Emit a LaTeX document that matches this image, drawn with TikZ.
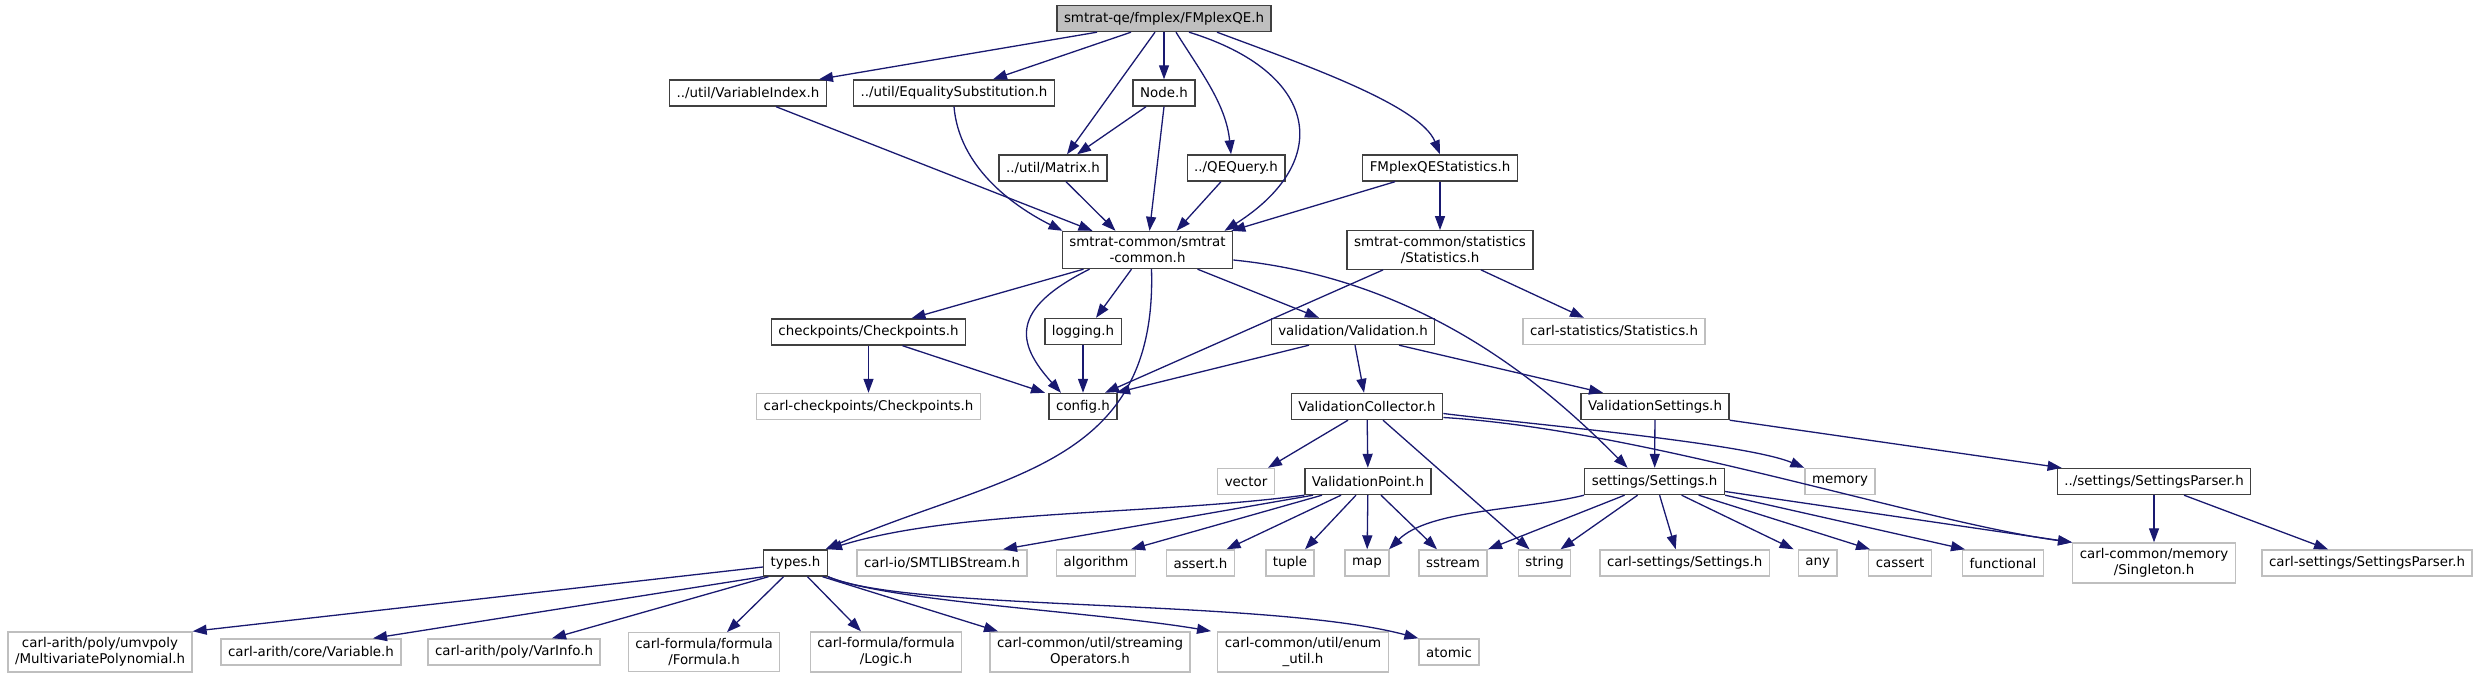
\documentclass[tikz,border=0pt]{standalone}
\usepackage{fontspec}
\setmainfont{DejaVu Sans}
\usetikzlibrary{arrows.meta}
\definecolor{edgeblue}{HTML}{191970}
\definecolor{docgray}{HTML}{404040}
\definecolor{extgray}{HTML}{BFBFBF}

\begin{document}
\begin{tikzpicture}[
    x=1pt, y=1pt,
    >={Triangle[length=14pt,width=10pt]},
    % one box per header file
    file/.style={
        draw=docgray,
        line width=1.4pt,
        fill=white,
        text=black,
        inner xsep=7pt,
        inner ysep=5.5pt,
        minimum height=26pt,
        align=center,
        font=\fontsize{13.4}{16}\selectfont
    },
    extfile/.style={file, draw=extgray},
    rootfile/.style={file, fill=extgray},
    dep/.style={->, draw=edgeblue, line width=1.3pt}
]
    \useasboundingbox (0,0) rectangle (2478,-679);

    % --- row 1 ---
    \node(root)[rootfile] at (1164,-18.5) {smtrat-qe/fmplex/FMplexQE.h};
    % --- row 2 ---
    \node(varidx)[file] at (748,-93) {../util/VariableIndex.h};
    \node(eqsub)[file] at (954,-93) {../util/EqualitySubstitution.h};
    \node(nodeh)[file] at (1164,-93) {Node.h};
    % --- row 3 ---
    \node(matrix)[file] at (1053,-168) {../util/Matrix.h};
    \node(qequery)[file] at (1236,-168) {../QEQuery.h};
    \node(fmstats)[file] at (1440,-168) {FMplexQEStatistics.h};
    % --- row 4 ---
    \node(common)[file] at (1147.5,-250) {smtrat-common/smtrat\\-common.h};
    \node(stats)[file] at (1440,-250) {smtrat-common/statistics\\/Statistics.h};
    % --- row 5 ---
    \node(checkp)[file] at (868.5,-332) {checkpoints/Checkpoints.h};
    \node(logging)[file] at (1083,-331.5) {logging.h};
    \node(valid)[file] at (1353,-331.5) {validation/Validation.h};
    \node(carlstats)[extfile] at (1614,-331.5) {carl-statistics/Statistics.h};
    % --- row 6 ---
    \node(carlcheckp)[extfile] at (868.5,-406.5) {carl-checkpoints/Checkpoints.h};
    \node(config)[file] at (1083,-406.5) {config.h};
    \node(vcoll)[file] at (1367,-406.5) {ValidationCollector.h};
    \node(vsett)[file] at (1655,-406.5) {ValidationSettings.h};
    % --- row 7 ---
    \node(vector)[extfile] at (1246,-481.5) {vector};
    \node(vpoint)[file] at (1368,-481.5) {ValidationPoint.h};
    \node(settings)[file] at (1654.6,-481.5) {settings/Settings.h};
    \node(memory)[extfile] at (1840,-481.5) {memory};
    \node(sparser)[file] at (2154,-481.5) {../settings/SettingsParser.h};
    % --- row 8 ---
    \node(types)[file] at (795.5,-563) {types.h};
    \node(smtlib)[extfile] at (942,-563) {carl-io/SMTLIBStream.h};
    \node(algorithm)[extfile] at (1096,-563) {algorithm};
    \node(assert)[extfile] at (1200.5,-563) {assert.h};
    \node(tuple)[extfile] at (1290,-563) {tuple};
    \node(map)[extfile] at (1367,-563) {map};
    \node(sstream)[extfile] at (1453,-563) {sstream};
    \node(string)[extfile] at (1544.5,-563) {string};
    \node(carlsettings)[extfile] at (1684.7,-563) {carl-settings/Settings.h};
    \node(any)[extfile] at (1817.6,-563) {any};
    \node(cassert)[extfile] at (1900,-563) {cassert};
    \node(functional)[extfile] at (2003,-563) {functional};
    \node(singleton)[extfile] at (2154,-563) {carl-common/memory\\/Singleton.h};
    \node(carlsparser)[extfile] at (2367,-563) {carl-settings/SettingsParser.h};
    % --- row 9 ---
    \node(multipoly)[extfile] at (100,-652) {carl-arith/poly/umvpoly\\/MultivariatePolynomial.h};
    \node(variable)[extfile] at (311,-652) {carl-arith/core/Variable.h};
    \node(varinfo)[extfile] at (514,-652) {carl-arith/poly/VarInfo.h};
    \node(formula)[extfile] at (704,-652) {carl-formula/formula\\/Formula.h};
    \node(logic)[extfile] at (886,-652) {carl-formula/formula\\/Logic.h};
    \node(streamops)[extfile] at (1090,-652) {carl-common/util/streaming\\Operators.h};
    \node(enumutil)[extfile] at (1303,-652) {carl-common/util/enum\\\_util.h};
    \node(atomic)[extfile] at (1449,-652) {atomic};

    % --- includes of FMplexQE.h ---
    \draw[dep] ([xshift=-67pt]root.south) -- ([xshift=71pt]varidx.north);
    \draw[dep] ([xshift=-33pt]root.south) -- ([xshift=39pt]eqsub.north);
    \draw[dep] ([xshift=-9pt]root.south) -- ([xshift=14pt]matrix.north);
    \draw[dep] (root) -- (nodeh);
    \draw[dep] ([xshift=12pt]root.south) .. controls +(25,-40) and +(-5,50) .. ([xshift=-5pt]qequery.north);
    \draw[dep] ([xshift=25pt]root.south) .. controls +(130,-40) and +(110,70) .. ([xshift=77pt]common.north);
    \draw[dep] ([xshift=53pt]root.south) .. controls +(80,-30) and +(-20,50) .. (fmstats.north);

    % --- second and third rows ---
    \draw[dep] ([xshift=28pt]varidx.south) -- ([xshift=-55pt]common.north);
    \draw[dep] (eqsub.south) .. controls +(5,-60) and +(-50,25) .. ([xshift=-85pt]common.north);
    \draw[dep] ([xshift=-18pt]nodeh.south) -- ([xshift=24pt]matrix.north);
    \draw[dep] (nodeh.south) -- ([xshift=2pt]common.north);
    \draw[dep] ([xshift=13pt]matrix.south) -- ([xshift=-32pt]common.north);
    \draw[dep] ([xshift=-15pt]qequery.south) -- ([xshift=29pt]common.north);
    \draw[dep] ([xshift=-45pt]fmstats.south) -- ([xshift=-2pt]common.north east);
    \draw[dep] (fmstats) -- (stats);

    % --- smtrat-common.h and Statistics.h ---
    \draw[dep] ([xshift=-64pt]common.south) -- ([xshift=43pt]checkp.north);
    \draw[dep] ([xshift=-58pt]common.south) .. controls +(-80,-40) and +(-45,50) .. ([xshift=-22pt]config.north);
    \draw[dep] ([xshift=-16pt]common.south) -- ([xshift=13pt]logging.north);
    \draw[dep] ([xshift=50pt]common.south) -- ([xshift=-34pt]valid.north);
    \draw[dep] ([xshift=4pt]common.south) .. controls +(6,-200) and +(175,76) .. ([xshift=30pt]types.north);
    \draw[dep] ([yshift=-10pt]common.east) .. controls +(200,-20) and +(-70,70) .. ([xshift=-27pt]settings.north);
    \draw[dep] ([xshift=-57pt]stats.south) -- ([xshift=22pt]config.north);
    \draw[dep] ([xshift=41pt]stats.south) -- ([xshift=-30pt]carlstats.north);

    % --- checkpoints, logging, validation ---
    \draw[dep] (checkp) -- (carlcheckp);
    \draw[dep] ([xshift=34pt]checkp.south) -- ([xshift=-38pt]config.north);
    \draw[dep] (logging) -- (config);
    \draw[dep] ([xshift=-44pt]valid.south) -- ([xshift=33pt]config.north);
    \draw[dep] ([xshift=2pt]valid.south) -- ([xshift=-3pt]vcoll.north);
    \draw[dep] ([xshift=46pt]valid.south) -- ([xshift=-52pt]vsett.north);

    % --- ValidationCollector.h and ValidationSettings.h ---
    \draw[dep] ([xshift=-19pt]vcoll.south) -- ([xshift=22pt]vector.north);
    \draw[dep] (vcoll) -- (vpoint);
    \draw[dep] ([xshift=16pt]vcoll.south) -- ([xshift=-15pt]string.north);
    \draw[dep] ([yshift=-7pt]vcoll.east) .. controls +(80,-10) and +(-60,25) .. (memory.north west);
    \draw[dep] ([yshift=-11pt]vcoll.east) .. controls +(200,-12) and +(-150,20) .. (singleton.north west);
    \draw[dep] (vsett) -- (settings);
    \draw[dep] (vsett.south east) -- ([xshift=5pt]sparser.north west);
    \draw[dep] (sparser) -- (singleton);
    \draw[dep] ([xshift=30pt]sparser.south) -- ([xshift=-39pt]carlsparser.north);

    % --- ValidationPoint.h ---
    \draw[dep] (vpoint.south west) .. controls +(-150,-20) and +(130,40) .. (types.north east);
    \draw[dep] ([xshift=-55pt]vpoint.south) -- ([xshift=61pt]smtlib.north);
    \draw[dep] ([xshift=-46pt]vpoint.south) -- ([xshift=35pt]algorithm.north);
    \draw[dep] ([xshift=-27pt]vpoint.south) -- ([xshift=26pt]assert.north);
    \draw[dep] ([xshift=-12pt]vpoint.south) -- ([xshift=15pt]tuple.north);
    \draw[dep] (vpoint) -- (map);
    \draw[dep] ([xshift=13pt]vpoint.south) -- ([xshift=-16pt]sstream.north);

    % --- settings/Settings.h ---
    \draw[dep] (settings.south west) .. controls +(-60,-15) and +(40,40) .. ([xshift=22pt]map.north);
    \draw[dep] ([xshift=-30pt]settings.south) -- ([xshift=35pt]sstream.north);
    \draw[dep] ([xshift=-17pt]settings.south) -- ([xshift=16pt]string.north);
    \draw[dep] ([xshift=5pt]settings.south) -- ([xshift=-9pt]carlsettings.north);
    \draw[dep] ([xshift=27pt]settings.south) -- ([xshift=-24pt]any.north);
    \draw[dep] ([xshift=44pt]settings.south) -- ([xshift=-30pt]cassert.north);
    \draw[dep] (settings.south east) -- ([xshift=-38pt]functional.north);
    \draw[dep] ([yshift=-10pt]settings.east) -- (singleton.north west);

    % --- types.h ---
    \draw[dep] ([yshift=-4pt]types.west) -- (multipoly.north east);
    \draw[dep] (types.south west) -- ([xshift=62pt]variable.north);
    \draw[dep] ([xshift=-27pt]types.south) -- ([xshift=38pt]varinfo.north);
    \draw[dep] ([xshift=-12pt]types.south) -- ([xshift=23pt]formula.north);
    \draw[dep] ([xshift=12pt]types.south) -- ([xshift=-25pt]logic.north);
    \draw[dep] ([xshift=27pt]types.south) -- ([xshift=-92pt]streamops.north);
    \draw[dep] (types.south east) .. controls +(60,-25) and +(-120,20) .. ([xshift=-6pt]enumutil.north west);
    \draw[dep] (types.south east) .. controls +(80,-35) and +(-150,40) .. (atomic.north west);
\end{tikzpicture}
\end{document}
